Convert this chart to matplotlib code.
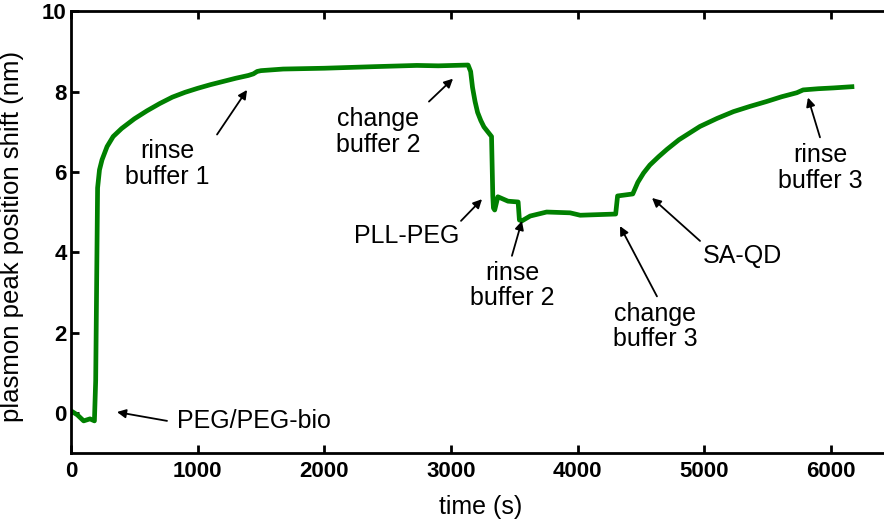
import matplotlib
matplotlib.use("Agg")
import matplotlib.pyplot as plt

# plasmon peak shift trace (time in s, shift in nm)
time_s = [0, 50, 100, 150, 185, 195, 210, 225, 245, 285, 333, 400, 500, 600,
          700, 800, 900, 1000, 1100, 1200, 1300, 1400, 1440, 1470, 1500, 1675,
          2000, 2400, 2730, 2900, 3135, 3155, 3170, 3190, 3210, 3235, 3260,
          3290, 3320, 3330, 3335, 3345, 3370, 3450, 3530, 3540, 3560, 3625,
          3755, 3940, 4020, 4300, 4315, 4435, 4475, 4520, 4570, 4640, 4705,
          4800, 4900, 4965, 5100, 5230, 5360, 5490, 5610, 5730, 5780, 5900,
          6020, 6165]
shift_nm = [0.05, -0.05, -0.2, -0.15, -0.2, 0.8, 5.6, 6.05, 6.3, 6.63, 6.88,
            7.08, 7.32, 7.52, 7.7, 7.86, 7.98, 8.08, 8.17, 8.25, 8.33, 8.40,
            8.44, 8.50, 8.52, 8.56, 8.58, 8.62, 8.65, 8.64, 8.66, 8.5, 8.1,
            7.75, 7.48, 7.28, 7.12, 7.0, 6.88, 5.4, 5.1, 5.05, 5.38, 5.27,
            5.25, 4.8, 4.78, 4.9, 5.0, 4.98, 4.92, 4.95, 5.4, 5.45, 5.74,
            5.97, 6.17, 6.38, 6.56, 6.8, 7.0, 7.13, 7.33, 7.5, 7.63, 7.75,
            7.87, 7.97, 8.04, 8.07, 8.09, 8.12]

# step labels: text, text centre, arrow head, arrow tail (data coords)
labels = ["rinse\nbuffer 1", "change\nbuffer 2", "PLL-PEG", "rinse\nbuffer 2",
          "change\nbuffer 3", "SA-QD", "rinse\nbuffer 3"]
label_xy = [(758, 6.19), (2424, 7.0), (2653, 4.41), (3481, 3.17),
            (4610, 2.15), (5297, 3.91), (5913, 6.09)]
head_xy = [(1390, 8.04), (3016, 8.32), (3245, 5.32), (3560, 4.78),
           (4334, 4.65), (4587, 5.35), (5818, 7.85)]
tail_xy = [(1153, 6.93), (2826, 7.75), (3079, 4.78), (3481, 3.91),
           (4626, 2.9), (4966, 4.28), (5913, 6.86)]

plt.rcParams["font.family"] = ["Liberation Sans", "DejaVu Sans"]

fig = plt.figure(figsize=(8.84, 5.21), dpi=100)
ax = fig.add_axes([0.0803, 0.1305, 0.9314, 0.848])

ax.plot(time_s, shift_nm, color="#008000", lw=3.4, solid_joinstyle="round")

ax.set_xlim(0, 6500)
ax.set_ylim(-1, 10)
ax.set_xticks(range(0, 7000, 1000))
ax.set_yticks(range(0, 12, 2))
ax.tick_params(direction="in", length=6, width=2, top=True, right=True,
               labelsize=16)
ax.tick_params(axis="x", pad=6)
ax.tick_params(axis="y", pad=3)
for lab in ax.get_xticklabels() + ax.get_yticklabels():
    lab.set_fontweight("bold")
for sp in ax.spines.values():
    sp.set_linewidth(2)

ax.set_xlabel("time (s)", fontsize=18)
ax.set_ylabel("plasmon peak position shift (nm)", fontsize=18.5)
ax.xaxis.set_label_coords(0.497, -0.095)
ax.yaxis.set_label_coords(-0.057, 0.49)

arrow = dict(arrowstyle="-|>", color="black", lw=1.3, mutation_scale=13,
             shrinkA=0, shrinkB=0)
for txt, pos, head, tail in zip(labels, label_xy, head_xy, tail_xy):
    ax.annotate("", xy=head, xytext=tail, arrowprops=arrow)
    ax.text(pos[0], pos[1], txt, fontsize=18, ha="center", va="center",
            linespacing=1.1)

ax.annotate("", xy=(363, 0.02), xytext=(758, -0.2), arrowprops=arrow)
ax.text(837, -0.2, "PEG/PEG-bio", fontsize=18, ha="left", va="center")

fig.savefig("out.png", dpi=100)
